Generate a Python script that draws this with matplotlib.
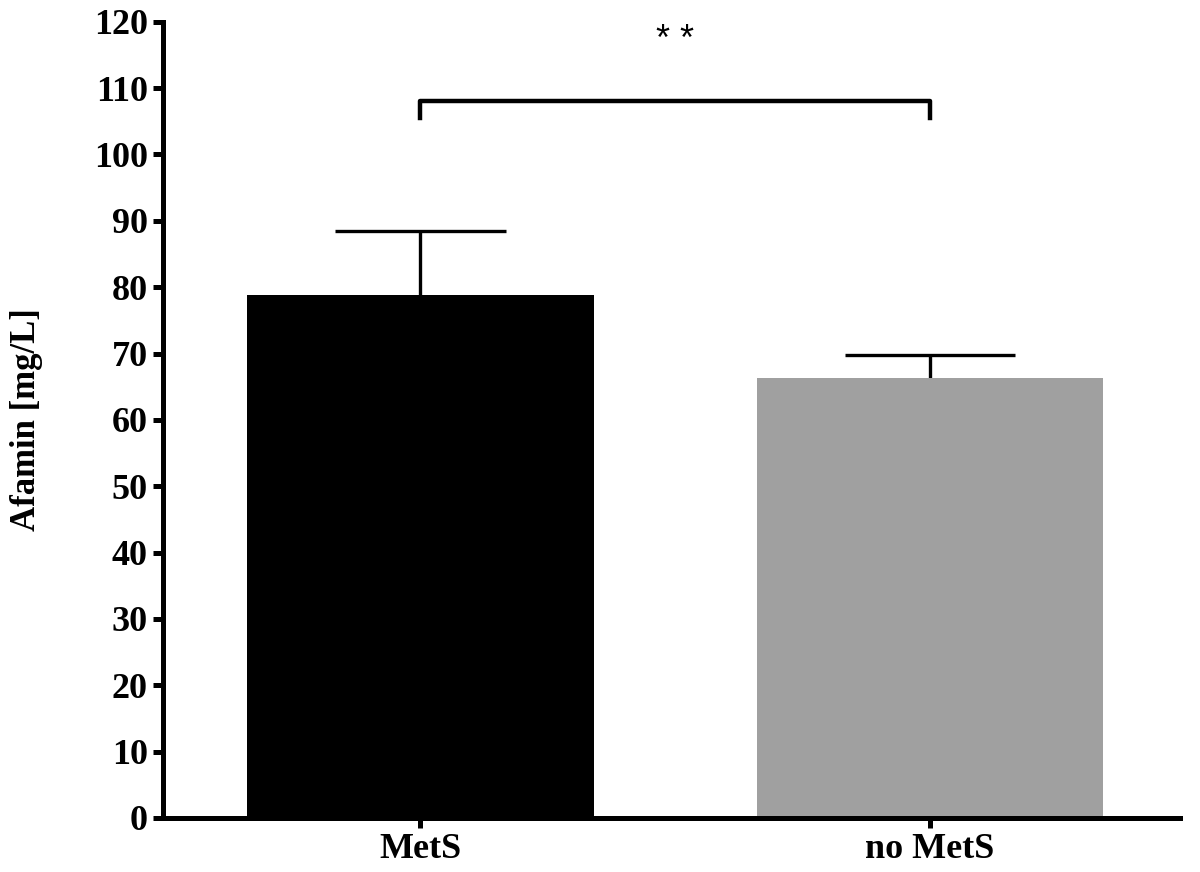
import matplotlib
matplotlib.use('Agg')
import matplotlib.pyplot as plt

# data
groups = ['MetS', 'no MetS']
means = [78.8, 66.3]
sem_up = [9.6, 3.5]
bar_colors = ['#000000', '#a0a0a0']
y_ticks = list(range(0, 121, 10))
sig_label = '* *'
sig_y = 108.0
sig_drop = 2.5

plt.rcParams['font.family'] = ['Liberation Serif', 'DejaVu Serif']
plt.rcParams['font.weight'] = 'bold'

fig = plt.figure(figsize=(12, 8.72), dpi=100)
ax = fig.add_axes([0.136, 0.062, 0.847, 0.913])

x = list(range(len(groups)))
ax.bar(x, means, width=0.68, color=bar_colors, edgecolor='none', zorder=2)

# upper-only error bars (stem + cap)
tops = [m + e for m, e in zip(means, sem_up)]
ax.vlines(x, means, tops, color='black', lw=2.4, zorder=1)
cap_half = 0.167
ax.hlines(tops, [xi - cap_half for xi in x], [xi + cap_half for xi in x],
          color='black', lw=2.4, zorder=1)

# significance bracket
ax.plot([x[0], x[0], x[1], x[1]], [sig_y - sig_drop, sig_y, sig_y, sig_y - sig_drop],
        color='black', lw=3.2, solid_joinstyle='round', clip_on=False)
ax.text((x[0] + x[1]) / 2, 117.2, sig_label, ha='center', va='center',
        fontsize=26, fontweight='normal', family=['Liberation Sans', 'DejaVu Sans'])

ax.set_xlim(-0.505, 1.49)
ax.set_ylim(0, 120)
ax.set_yticks(y_ticks)
ax.set_xticks(x)
ax.set_xticklabels(groups)
ax.set_ylabel('Afamin [mg/L]', fontsize=25, fontweight='bold', labelpad=37)

for side in ['top', 'right']:
    ax.spines[side].set_visible(False)
for side in ['left', 'bottom']:
    ax.spines[side].set_linewidth(3.6)
ax.tick_params(axis='both', width=3.6, length=7, labelsize=26, pad=4)
for lab in ax.get_xticklabels() + ax.get_yticklabels():
    lab.set_fontweight('bold')

fig.savefig('out.png', dpi=100)
